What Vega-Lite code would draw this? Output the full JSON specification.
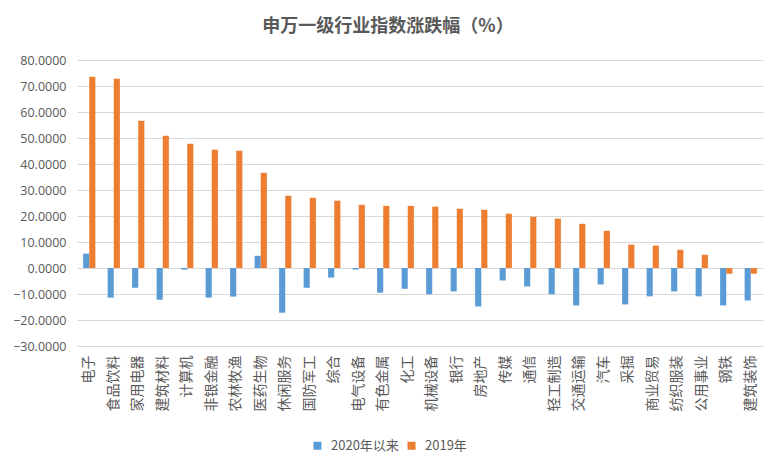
{
  "$schema": "https://vega.github.io/schema/vega-lite/v6.json",
  "autosize": {"type": "none"},
  "width": 686,
  "height": 286,
  "padding": {"left": 77, "top": 60, "right": 20, "bottom": 125},
  "background": "white",
  "title": {
    "text": "申万一级行业指数涨跌幅（%）",
    "font": "Noto Sans CJK SC",
    "fontSize": 18,
    "fontWeight": "bold",
    "color": "#595959",
    "anchor": "middle",
    "dx": -32,
    "offset": 18
  },
  "data": {
    "values": [
      {"industry": "电子", "series": "2020年以来", "value": 5.5},
      {"industry": "电子", "series": "2019年", "value": 73.6},
      {"industry": "食品饮料", "series": "2020年以来", "value": -11.4},
      {"industry": "食品饮料", "series": "2019年", "value": 72.8},
      {"industry": "家用电器", "series": "2020年以来", "value": -7.6},
      {"industry": "家用电器", "series": "2019年", "value": 56.6},
      {"industry": "建筑材料", "series": "2020年以来", "value": -12.2},
      {"industry": "建筑材料", "series": "2019年", "value": 50.9},
      {"industry": "计算机", "series": "2020年以来", "value": -0.6},
      {"industry": "计算机", "series": "2019年", "value": 47.8},
      {"industry": "非银金融", "series": "2020年以来", "value": -11.4},
      {"industry": "非银金融", "series": "2019年", "value": 45.5},
      {"industry": "农林牧渔", "series": "2020年以来", "value": -11.0},
      {"industry": "农林牧渔", "series": "2019年", "value": 45.1},
      {"industry": "医药生物", "series": "2020年以来", "value": 4.7},
      {"industry": "医药生物", "series": "2019年", "value": 36.6},
      {"industry": "休闲服务", "series": "2020年以来", "value": -17.2},
      {"industry": "休闲服务", "series": "2019年", "value": 27.8},
      {"industry": "国防军工", "series": "2020年以来", "value": -7.6},
      {"industry": "国防军工", "series": "2019年", "value": 27.0},
      {"industry": "综合", "series": "2020年以来", "value": -3.7},
      {"industry": "综合", "series": "2019年", "value": 25.9},
      {"industry": "电气设备", "series": "2020年以来", "value": -0.6},
      {"industry": "电气设备", "series": "2019年", "value": 24.3},
      {"industry": "有色金属", "series": "2020年以来", "value": -9.5},
      {"industry": "有色金属", "series": "2019年", "value": 23.9},
      {"industry": "化工", "series": "2020年以来", "value": -8.0},
      {"industry": "化工", "series": "2019年", "value": 23.9},
      {"industry": "机械设备", "series": "2020年以来", "value": -10.1},
      {"industry": "机械设备", "series": "2019年", "value": 23.6},
      {"industry": "银行", "series": "2020年以来", "value": -9.0},
      {"industry": "银行", "series": "2019年", "value": 22.8},
      {"industry": "房地产", "series": "2020年以来", "value": -14.8},
      {"industry": "房地产", "series": "2019年", "value": 22.4},
      {"industry": "传媒", "series": "2020年以来", "value": -4.8},
      {"industry": "传媒", "series": "2019年", "value": 20.9},
      {"industry": "通信", "series": "2020年以来", "value": -7.1},
      {"industry": "通信", "series": "2019年", "value": 19.7},
      {"industry": "轻工制造", "series": "2020年以来", "value": -10.1},
      {"industry": "轻工制造", "series": "2019年", "value": 19.0},
      {"industry": "交通运输", "series": "2020年以来", "value": -14.4},
      {"industry": "交通运输", "series": "2019年", "value": 17.0},
      {"industry": "汽车", "series": "2020年以来", "value": -6.3},
      {"industry": "汽车", "series": "2019年", "value": 14.3},
      {"industry": "采掘", "series": "2020年以来", "value": -14.0},
      {"industry": "采掘", "series": "2019年", "value": 9.0},
      {"industry": "商业贸易", "series": "2020年以来", "value": -10.9},
      {"industry": "商业贸易", "series": "2019年", "value": 8.6},
      {"industry": "纺织服装", "series": "2020年以来", "value": -9.0},
      {"industry": "纺织服装", "series": "2019年", "value": 7.0},
      {"industry": "公用事业", "series": "2020年以来", "value": -10.9},
      {"industry": "公用事业", "series": "2019年", "value": 5.1},
      {"industry": "钢铁", "series": "2020年以来", "value": -14.4},
      {"industry": "钢铁", "series": "2019年", "value": -2.2},
      {"industry": "建筑装饰", "series": "2020年以来", "value": -12.5},
      {"industry": "建筑装饰", "series": "2019年", "value": -2.2}
    ]
  },
  "mark": {"type": "bar"},
  "encoding": {
    "x": {
      "field": "industry",
      "type": "nominal",
      "sort": null,
      "title": null,
      "scale": {"paddingInner": 0.5, "paddingOuter": 0.25},
      "axis": {
        "labelAngle": -90,
        "labelFont": "Noto Sans CJK SC",
        "labelFontSize": 14,
        "labelColor": "#595959",
        "labelPadding": 9,
        "labelOverlap": false,
        "ticks": false,
        "domain": false,
        "grid": false
      }
    },
    "xOffset": {
      "field": "series",
      "type": "nominal",
      "sort": ["2020年以来", "2019年"]
    },
    "y": {
      "field": "value",
      "type": "quantitative",
      "title": null,
      "scale": {"domain": [-30, 80], "nice": false, "zero": false},
      "axis": {
        "values": [-30, -20, -10, 0, 10, 20, 30, 40, 50, 60, 70, 80],
        "format": ".4f",
        "labelFont": "Open Sans",
        "labelFontSize": 12.5,
        "labelColor": "#595959",
        "labelPadding": 11,
        "ticks": false,
        "domain": false,
        "grid": true,
        "gridColor": "#D9D9D9",
        "gridWidth": 1
      }
    },
    "color": {
      "field": "series",
      "type": "nominal",
      "scale": {"domain": ["2020年以来", "2019年"], "range": ["#5B9BD5", "#ED7D31"]},
      "legend": {
        "title": null,
        "orient": "none",
        "legendX": 234,
        "legendY": 379,
        "direction": "horizontal",
        "symbolType": "square",
        "symbolSize": 64,
        "symbolStrokeWidth": 0,
        "labelFont": "Noto Sans CJK SC",
        "labelFontSize": 13,
        "labelColor": "#595959",
        "labelOffset": 7,
        "columnPadding": 6
      }
    }
  },
  "config": {"view": {"stroke": null}}
}
